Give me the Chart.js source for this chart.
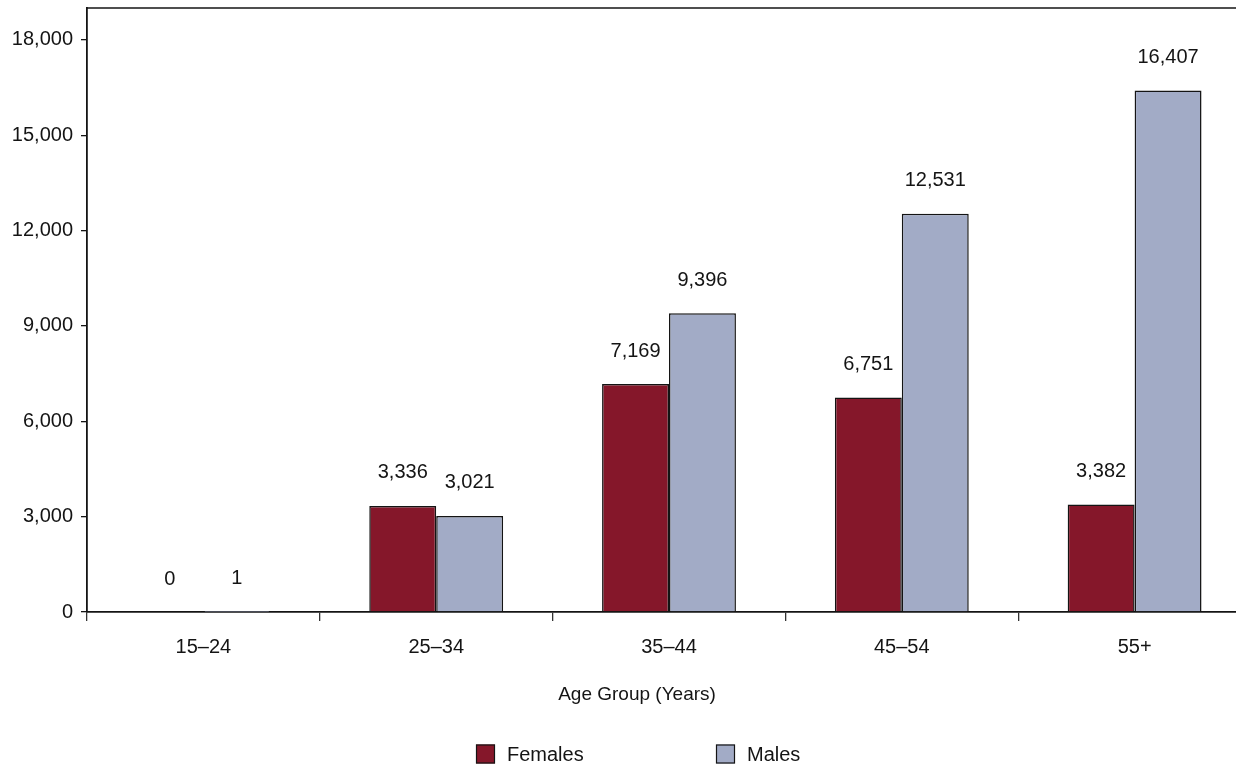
<!DOCTYPE html>
<html>
<head>
<meta charset="utf-8">
<script src="https://cdn.jsdelivr.net/npm/chart.js@4"></script>
<style>
  html, body { margin: 0; padding: 0; background: #fff; overflow: hidden; }
  #wrap { width: 1236px; height: 769px; overflow: hidden; position: relative; }
  canvas { display: block; }
</style>
</head>
<body>
<div id="wrap"><canvas id="c" width="1251" height="769"></canvas></div>
<script>
const ageGroups = ['15\u201324', '25\u201334', '35\u201344', '45\u201354', '55+'];
const females = [0, 3336, 7169, 6751, 3382];
const males = [1, 3021, 9396, 12531, 16407];
const seriesNames = ['Females', 'Males'];
const yTickValues = [0, 3000, 6000, 9000, 12000, 15000, 18000];
const axisTitle = 'Age Group (Years)';

const FONT = "'Liberation Sans', Arial, sans-serif";
const FEMALE_COLOR = '#85172a';
const MALE_COLOR = '#a2abc6';
const INK = '#141414';

Chart.defaults.font.family = FONT;
Chart.defaults.color = INK;

// value labels above each bar
const valueLabels = {
  id: 'valueLabels',
  afterDatasetsDraw(chart) {
    const ctx = chart.ctx;
    ctx.save();
    ctx.font = '20px ' + FONT;
    ctx.fillStyle = INK;
    ctx.textAlign = 'center';
    ctx.textBaseline = 'middle';
    chart.data.datasets.forEach((ds, i) => {
      chart.getDatasetMeta(i).data.forEach((bar, j) => {
        ctx.fillText(ds.data[j].toLocaleString('en-US'), bar.x, bar.y - 33);
      });
    });
    ctx.restore();
  }
};

// frame line along the top of the plot area, axis title and legend underneath
const frameAndFooter = {
  id: 'frameAndFooter',
  afterDraw(chart) {
    const ctx = chart.ctx;
    const a = chart.chartArea;
    ctx.save();
    ctx.strokeStyle = INK;
    ctx.lineWidth = 1.5;
    ctx.beginPath();
    ctx.moveTo(a.left, a.top);
    ctx.lineTo(a.right, a.top);
    ctx.stroke();

    const cx = 637;
    ctx.font = '19px ' + FONT;
    ctx.fillStyle = INK;
    ctx.textAlign = 'center';
    ctx.textBaseline = 'middle';
    ctx.fillText(axisTitle, cx, a.bottom + 83);

    const colors = [FEMALE_COLOR, MALE_COLOR];
    const legendY = a.bottom + 142;
    const starts = [cx - 161, cx + 79];
    ctx.font = '20px ' + FONT;
    ctx.textAlign = 'left';
    seriesNames.forEach((name, i) => {
      const x = starts[i];
      ctx.fillStyle = colors[i];
      ctx.fillRect(x, legendY - 9.5, 19, 19);
      ctx.strokeStyle = INK;
      ctx.lineWidth = 1.2;
      ctx.strokeRect(x + 0.5, legendY - 9, 18, 18);
      ctx.fillStyle = INK;
      ctx.fillText(name, x + 31, legendY + 1);
    });
    ctx.restore();
  }
};

new Chart(document.getElementById('c'), {
  type: 'bar',
  data: {
    labels: ageGroups,
    datasets: [
      { label: seriesNames[0], data: females, backgroundColor: FEMALE_COLOR, borderColor: INK, borderWidth: 1.5 },
      { label: seriesNames[1], data: males, backgroundColor: MALE_COLOR, borderColor: INK, borderWidth: 1.5 }
    ]
  },
  options: {
    responsive: false,
    animation: false,
    layout: { padding: { top: 8, right: 0, bottom: 0, left: 0 } },
    datasets: { bar: { categoryPercentage: 0.575, barPercentage: 1 } },
    plugins: { legend: { display: false }, tooltip: { enabled: false } },
    scales: {
      x: {
        grid: { offset: true, drawOnChartArea: false, tickLength: 9, color: '#333', lineWidth: 1.3 },
        border: { color: INK, width: 1.8 },
        ticks: { font: { size: 20 }, color: INK, padding: 14 },
        afterFit(scale) { scale.height = 157; scale.paddingLeft = 0; scale.paddingRight = 0; }
      },
      y: {
        min: 0,
        max: 19000,
        grid: { drawOnChartArea: false, tickLength: 6, color: INK, lineWidth: 1.3 },
        border: { color: INK, width: 1.8 },
        ticks: {
          font: { size: 20 },
          color: INK,
          padding: 8,
          callback: v => v.toLocaleString('en-US')
        },
        afterBuildTicks(scale) { scale.ticks = yTickValues.map(v => ({ value: v })); },
        afterFit(scale) { scale.width = 87; scale.paddingTop = 0; scale.paddingBottom = 0; }
      }
    }
  },
  plugins: [valueLabels, frameAndFooter]
});
</script>
</body>
</html>
